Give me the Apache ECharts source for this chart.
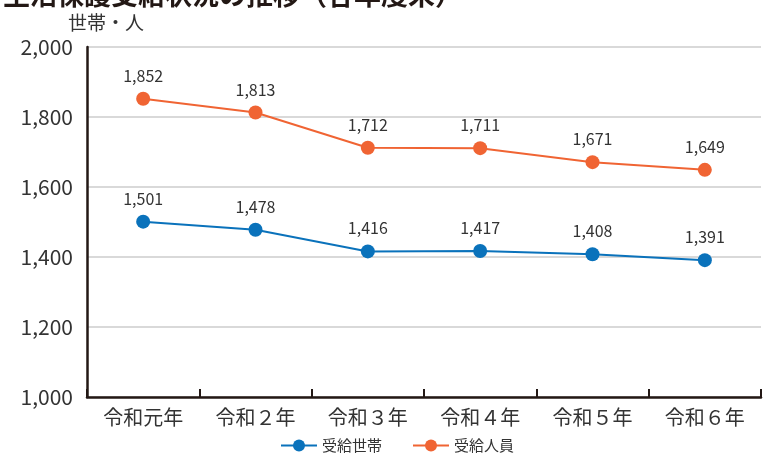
<!DOCTYPE html>
<html>
<head>
<meta charset="utf-8">
<script src="https://cdn.jsdelivr.net/npm/echarts@6/dist/echarts.min.js"></script>
<style>
  html, body { margin: 0; padding: 0; background: #fff; }
  #chart { width: 768px; height: 459px; }
</style>
</head>
<body>
<div id="chart"></div>
<script>
  // 年度
  var years = ['令和元年', '令和２年', '令和３年', '令和４年', '令和５年', '令和６年']
  // 受給世帯
  var households = [1501, 1478, 1416, 1417, 1408, 1391]
  // 受給人員
  var persons = [1852, 1813, 1712, 1711, 1671, 1649]

  var FONT = '"Noto Sans CJK JP", "Noto Sans", sans-serif'
  var chart = echarts.init(document.getElementById('chart'))

  chart.setOption({
    animation: false,
    textStyle: { fontFamily: FONT },
    title: {
      text: '生活保護受給状況の推移（各年度末）',
      left: -2,
      top: -24,
      textStyle: { fontSize: 27, fontWeight: 'bold', color: '#231815', fontFamily: FONT }
    },
    grid: {
      left: 87,
      right: 7,
      top: 47,
      bottom: 62
    },
    legend: {
      bottom: 1,
      left: 275,
      itemWidth: 36,
      itemHeight: 15,
      itemGap: 30,
      textStyle: { fontSize: 15, color: '#333', fontFamily: FONT },
      data: ['受給世帯', '受給人員']
    },
    xAxis: {
      type: 'category',
      data: years,
      boundaryGap: true,
      axisLine: { lineStyle: { color: '#231815', width: 2.5 } },
      axisTick: { show: true, inside: true, length: 8, lineStyle: { color: '#231815', width: 2 } },
      axisLabel: { fontSize: 20, color: '#333', margin: 10, fontFamily: FONT },
      splitLine: { show: false }
    },
    yAxis: {
      type: 'value',
      min: 1000,
      max: 2000,
      interval: 200,
      name: '世帯・人',
      nameGap: 15,
      nameTextStyle: { fontSize: 19, color: '#333', align: 'left', padding: [0, 0, 0, -19], fontFamily: FONT },
      axisLine: { show: true, lineStyle: { color: '#231815', width: 2.5 } },
      axisTick: { show: false },
      axisLabel: {
        fontSize: 21,
        color: '#333',
        margin: 14,
        fontFamily: FONT,
        formatter: function (v) { return v.toLocaleString('en-US') }
      },
      splitLine: { lineStyle: { color: '#d9d9d9', width: 2 } }
    },
    series: [
      {
        name: '受給世帯',
        type: 'line',
        data: households,
        symbol: 'circle',
        symbolSize: 14,
        color: '#0a72bb',
        lineStyle: { width: 2, color: '#0a72bb' },
        label: {
          show: true,
          position: 'top',
          distance: 8,
          fontSize: 16,
          color: '#333',
          fontFamily: FONT,
          formatter: function (p) { return p.value.toLocaleString('en-US') }
        }
      },
      {
        name: '受給人員',
        type: 'line',
        data: persons,
        symbol: 'circle',
        symbolSize: 14,
        color: '#f06433',
        lineStyle: { width: 2, color: '#f06433' },
        label: {
          show: true,
          position: 'top',
          distance: 8,
          fontSize: 16,
          color: '#333',
          fontFamily: FONT,
          formatter: function (p) { return p.value.toLocaleString('en-US') }
        }
      }
    ]
  })
</script>
</body>
</html>
